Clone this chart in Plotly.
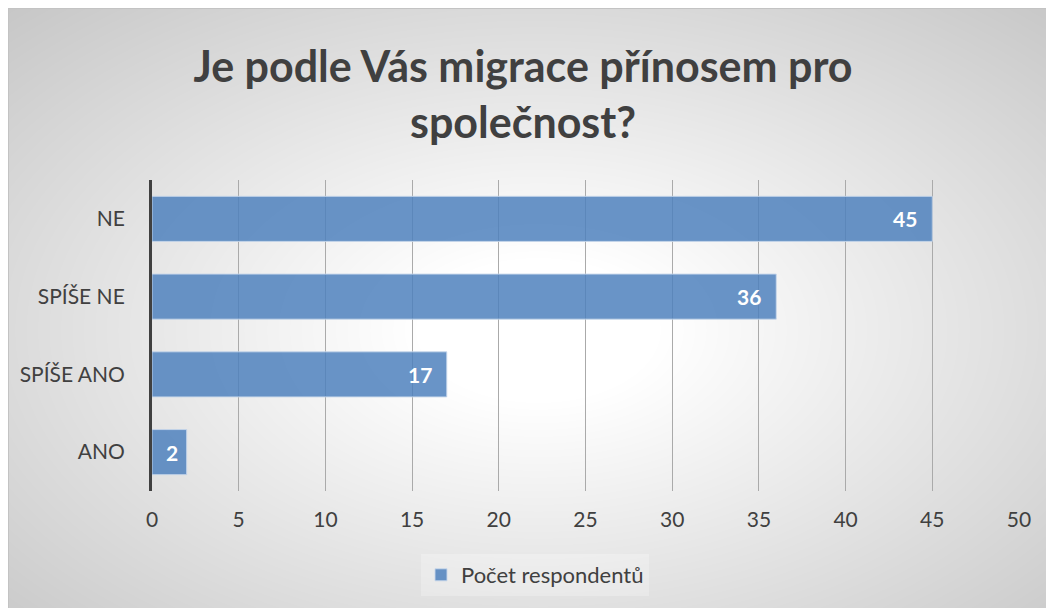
import base64, struct, zlib
import numpy as np
import plotly.graph_objects as go

# ---- data ----
categories = ["ANO", "SPÍŠE ANO", "SPÍŠE NE", "NE"]
values = [2, 17, 36, 45]
x_ticks = [0, 5, 10, 15, 20, 25, 30, 35, 40, 45, 50]
series_name = "Počet respondentů"
title_text = "Je podle Vás migrace přínosem pro<br>společnost?"

W, H = 1046, 600
L, R, T, B = 144, 35, 172, 117
PW, PH = W - L - R, H - T - B

# ---- background radial gradient as PNG ----
def make_png(arr):
    h, w, _ = arr.shape
    raw = b"".join(b"\x00" + arr[i].tobytes() for i in range(h))
    def chunk(tag, data):
        c = struct.pack(">I", len(data)) + tag + data
        return c + struct.pack(">I", zlib.crc32(tag + data) & 0xffffffff)
    png = b"\x89PNG\r\n\x1a\n"
    png += chunk(b"IHDR", struct.pack(">IIBBBBB", w, h, 8, 2, 0, 0, 0))
    png += chunk(b"IDAT", zlib.compress(raw, 9))
    png += chunk(b"IEND", b"")
    return "data:image/png;base64," + base64.b64encode(png).decode()

yy, xx = np.mgrid[0:H, 0:W].astype(float)
cx, cy = 530.0, 322.0
d = np.sqrt(((xx - cx) / 540.0) ** 2 + ((yy - cy) / 320.0) ** 2) / np.sqrt(2)
t = np.clip((d - 0.16) / 0.84, 0, 1)
v = 255 - 56 * t
img = np.stack([v, v, v], axis=-1)
img[0:1, :, :] = 195
img[:, 0:1, :] = 195
img = np.clip(img, 0, 255).astype(np.uint8)
bg = make_png(img)

font = "Lato, 'Open Sans', sans-serif"
txt = "#404040"

fig = go.Figure()
fig.add_trace(go.Bar(
    y=categories, x=values, orientation="h", name=series_name,
    marker=dict(color="rgba(79,129,189,0.85)",
                line=dict(color="rgba(200,215,235,0.9)", width=1)),
    showlegend=True,
))

for c, val in zip(categories, values):
    fig.add_annotation(x=val, y=c, xref="x", yref="y", text=f"<b>{val}</b>",
                       showarrow=False, xanchor="right",
                       xshift=-13 if val >= 10 else -7,
                       font=dict(family=font, size=21, color="white"))

fig.update_layout(
    width=W, height=H,
    margin=dict(l=L, r=R, t=T, b=B, pad=0),
    paper_bgcolor="white",
    plot_bgcolor="rgba(0,0,0,0)",
    bargap=0.42,
    title=dict(text=f"<b>{title_text}</b>", x=515 / W, xref="container", xanchor="center",
               y=1 - 74 / H, yref="container", yanchor="middle",
               font=dict(family=font, size=43, color=txt)),
    xaxis=dict(range=[0, 50], tickvals=x_ticks, showgrid=True, gridcolor="#aaaaaa",
               gridwidth=1, zeroline=False, showline=False,
               ticks="outside", ticklen=10, tickcolor="rgba(0,0,0,0)",
               tickfont=dict(family=font, size=21, color=txt)),
    yaxis=dict(categoryorder="array", categoryarray=categories,
               showgrid=False, zeroline=False, showline=True, linecolor="#404040",
               linewidth=3, ticks="outside", ticklen=20, tickcolor="rgba(0,0,0,0)",
               tickfont=dict(family=font, size=21, color=txt)),
    legend=dict(orientation="h", xref="container", yref="container",
                x=527 / W, xanchor="center", y=1 - 567 / H, yanchor="middle",
                bgcolor="rgba(255,255,255,0.25)",
                font=dict(family=font, size=22, color=txt),
                itemwidth=30),
    images=[dict(source=bg, xref="paper", yref="paper",
                 x=-L / PW, y=1 + T / PH, sizex=W / PW, sizey=H / PH,
                 xanchor="left", yanchor="top", sizing="stretch", layer="below")],
)

fig.write_html("out.html")
